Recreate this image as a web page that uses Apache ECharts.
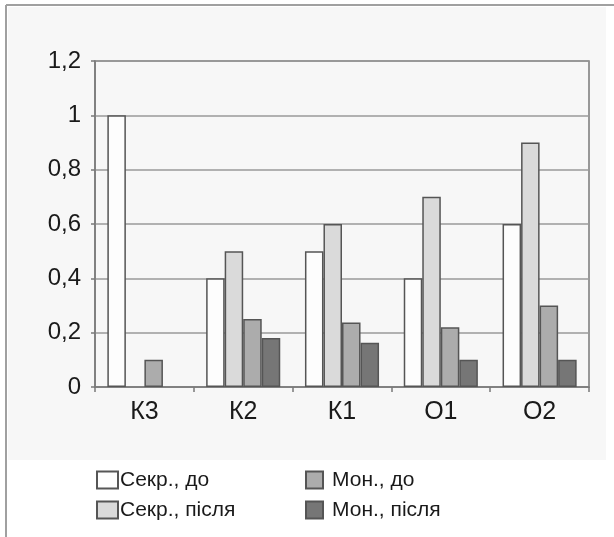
<!DOCTYPE html>
<html>
<head>
<meta charset="utf-8">
<script src="https://cdn.jsdelivr.net/npm/echarts@6/dist/echarts.min.js"></script>
<style>
html,body{margin:0;padding:0;background:#ffffff;}
#chart{width:614px;height:537px;}
</style>
</head>
<body>
<div id="chart"></div>
<script>
const categories = ['К3', 'К2', 'К1', 'О1', 'О2'];
const seriesNames = ['Секр., до', 'Секр., після', 'Мон., до', 'Мон., після'];
const sekrDo = [1.0, 0.4, 0.5, 0.4, 0.6];
const sekrPislya = [null, 0.5, 0.6, 0.7, 0.9];
const monDo = [0.1, 0.25, 0.237, 0.22, 0.3];
const monPislya = [null, 0.18, 0.163, 0.1, 0.1];
const yTicks = [0, 0.2, 0.4, 0.6, 0.8, 1, 1.2];

const colors = ['#fdfdfd', '#dadada', '#acacac', '#767676'];
const values = [sekrDo, sekrPislya, monDo, monPislya];

const chart = echarts.init(document.getElementById('chart'), null, {renderer: 'canvas'});
const font = 'Liberation Sans, Arial, Helvetica, sans-serif';

const option = {
  animation: false,
  backgroundColor: '#ffffff',
  graphic: [
    {type: 'rect', z: -10, shape: {x: 8, y: 7, width: 598, height: 453}, style: {fill: '#f7f7f7'}},
    {type: 'line', z: -5, shape: {x1: 6, y1: 5, x2: 614, y2: 5}, style: {stroke: '#a0a0a0', lineWidth: 2}},
    {type: 'line', z: -5, shape: {x1: 6, y1: 5, x2: 6, y2: 537}, style: {stroke: '#a0a0a0', lineWidth: 2}}
  ],
  grid: {
    left: 95, right: 25, top: 61, bottom: 150,
    show: true, borderColor: '#7a7a7a', borderWidth: 1.5, backgroundColor: 'transparent'
  },
  legend: [
    {
      data: seriesNames.slice(0, 2),
      icon: 'rect',
      orient: 'vertical', left: 96, top: 469, padding: 0,
      itemWidth: 21, itemHeight: 17, itemGap: 8,
      textStyle: {fontFamily: font, fontSize: 21, color: '#1a1a1a', padding: [0, 0, 0, -3], lineHeight: 22}
    },
    {
      data: seriesNames.slice(2, 4),
      icon: 'rect',
      orient: 'vertical', left: 305, top: 469, padding: 0,
      itemWidth: 17, itemHeight: 17, itemGap: 8,
      textStyle: {fontFamily: font, fontSize: 21, color: '#1a1a1a', padding: [0, 0, 0, 4], lineHeight: 22}
    }
  ],
  xAxis: {
    type: 'category',
    data: categories,
    axisLine: {lineStyle: {color: '#7a7a7a', width: 1.5}},
    axisTick: {show: true, length: 5, lineStyle: {color: '#7a7a7a', width: 1.5}},
    axisLabel: {fontFamily: font, fontSize: 25, color: '#1a1a1a', margin: 13}
  },
  yAxis: {
    type: 'value',
    min: 0, max: 1.2, interval: 0.2,
    axisLine: {show: true, lineStyle: {color: '#7a7a7a', width: 1.5}},
    axisTick: {show: true, length: 4, lineStyle: {color: '#7a7a7a', width: 1.5}},
    splitLine: {lineStyle: {color: '#9a9a9a', width: 1.5}},
    axisLabel: {
      fontFamily: font, fontSize: 24, color: '#1a1a1a', margin: 14,
      formatter: function (v) {
        const t = yTicks.find(x => Math.abs(x - v) < 1e-9);
        const val = t !== undefined ? t : v;
        return String(Math.round(val * 10) / 10).replace('.', ',');
      }
    }
  },
  series: values.map((d, i) => ({
    name: seriesNames[i],
    type: 'bar',
    data: d,
    barGap: '0%',
    barCategoryGap: '25%',
    itemStyle: {color: colors[i], borderColor: '#555555', borderWidth: 1.5}
  }))
};
chart.setOption(option);
</script>
</body>
</html>
